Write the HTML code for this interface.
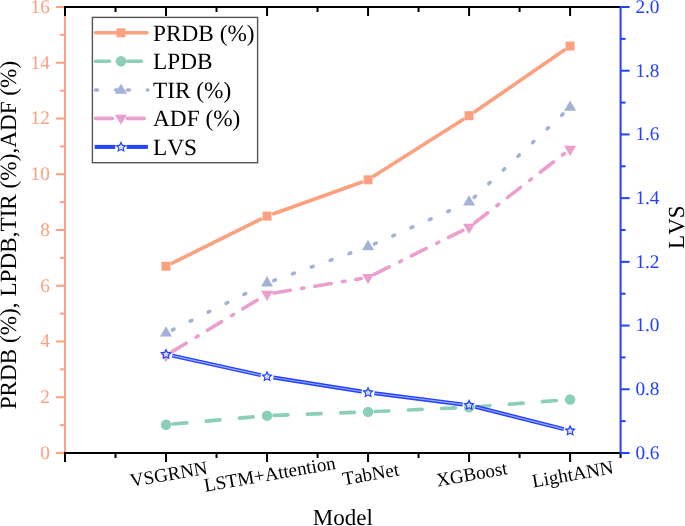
<!DOCTYPE html><html><head><meta charset="utf-8"><style>html,body{margin:0;padding:0;background:#fff;width:685px;height:526px;overflow:hidden}svg{display:block;will-change:transform}text{font-family:"Liberation Serif",serif;font-kerning:none;text-rendering:geometricPrecision}</style></head><body><svg width="685" height="526" viewBox="0 0 685 526"><line x1="65.0" y1="6.0" x2="65.0" y2="454.0" stroke="#FCA080" stroke-width="2"/><line x1="56.0" y1="453.00" x2="65.0" y2="453.00" stroke="#FCA080" stroke-width="2"/><text x="49.8" y="458.90" font-size="19.3" fill="#FCA080" text-anchor="end">0</text><line x1="60.0" y1="425.12" x2="65.0" y2="425.12" stroke="#FCA080" stroke-width="2"/><line x1="56.0" y1="397.25" x2="65.0" y2="397.25" stroke="#FCA080" stroke-width="2"/><text x="49.8" y="403.15" font-size="19.3" fill="#FCA080" text-anchor="end">2</text><line x1="60.0" y1="369.38" x2="65.0" y2="369.38" stroke="#FCA080" stroke-width="2"/><line x1="56.0" y1="341.50" x2="65.0" y2="341.50" stroke="#FCA080" stroke-width="2"/><text x="49.8" y="347.40" font-size="19.3" fill="#FCA080" text-anchor="end">4</text><line x1="60.0" y1="313.62" x2="65.0" y2="313.62" stroke="#FCA080" stroke-width="2"/><line x1="56.0" y1="285.75" x2="65.0" y2="285.75" stroke="#FCA080" stroke-width="2"/><text x="49.8" y="291.65" font-size="19.3" fill="#FCA080" text-anchor="end">6</text><line x1="60.0" y1="257.88" x2="65.0" y2="257.88" stroke="#FCA080" stroke-width="2"/><line x1="56.0" y1="230.00" x2="65.0" y2="230.00" stroke="#FCA080" stroke-width="2"/><text x="49.8" y="235.90" font-size="19.3" fill="#FCA080" text-anchor="end">8</text><line x1="60.0" y1="202.12" x2="65.0" y2="202.12" stroke="#FCA080" stroke-width="2"/><line x1="56.0" y1="174.25" x2="65.0" y2="174.25" stroke="#FCA080" stroke-width="2"/><text x="49.8" y="180.15" font-size="19.3" fill="#FCA080" text-anchor="end">10</text><line x1="60.0" y1="146.38" x2="65.0" y2="146.38" stroke="#FCA080" stroke-width="2"/><line x1="56.0" y1="118.50" x2="65.0" y2="118.50" stroke="#FCA080" stroke-width="2"/><text x="49.8" y="124.40" font-size="19.3" fill="#FCA080" text-anchor="end">12</text><line x1="60.0" y1="90.62" x2="65.0" y2="90.62" stroke="#FCA080" stroke-width="2"/><line x1="56.0" y1="62.75" x2="65.0" y2="62.75" stroke="#FCA080" stroke-width="2"/><text x="49.8" y="68.65" font-size="19.3" fill="#FCA080" text-anchor="end">14</text><line x1="60.0" y1="34.88" x2="65.0" y2="34.88" stroke="#FCA080" stroke-width="2"/><line x1="56.0" y1="7.00" x2="65.0" y2="7.00" stroke="#FCA080" stroke-width="2"/><text x="49.8" y="12.90" font-size="19.3" fill="#FCA080" text-anchor="end">16</text><line x1="64.0" y1="453.0" x2="620.6" y2="453.0" stroke="#000" stroke-width="2"/><line x1="64.0" y1="7.0" x2="620.6" y2="7.0" stroke="#000" stroke-width="2"/><line x1="65.00" y1="453.0" x2="65.00" y2="462.0" stroke="#000" stroke-width="2"/><line x1="65.00" y1="7.0" x2="65.00" y2="16.0" stroke="#000" stroke-width="2"/><line x1="115.51" y1="453.0" x2="115.51" y2="458.0" stroke="#000" stroke-width="2"/><line x1="115.51" y1="7.0" x2="115.51" y2="12.0" stroke="#000" stroke-width="2"/><line x1="166.02" y1="453.0" x2="166.02" y2="462.0" stroke="#000" stroke-width="2"/><line x1="166.02" y1="7.0" x2="166.02" y2="16.0" stroke="#000" stroke-width="2"/><line x1="216.53" y1="453.0" x2="216.53" y2="458.0" stroke="#000" stroke-width="2"/><line x1="216.53" y1="7.0" x2="216.53" y2="12.0" stroke="#000" stroke-width="2"/><line x1="267.04" y1="453.0" x2="267.04" y2="462.0" stroke="#000" stroke-width="2"/><line x1="267.04" y1="7.0" x2="267.04" y2="16.0" stroke="#000" stroke-width="2"/><line x1="317.55" y1="453.0" x2="317.55" y2="458.0" stroke="#000" stroke-width="2"/><line x1="317.55" y1="7.0" x2="317.55" y2="12.0" stroke="#000" stroke-width="2"/><line x1="368.05" y1="453.0" x2="368.05" y2="462.0" stroke="#000" stroke-width="2"/><line x1="368.05" y1="7.0" x2="368.05" y2="16.0" stroke="#000" stroke-width="2"/><line x1="418.56" y1="453.0" x2="418.56" y2="458.0" stroke="#000" stroke-width="2"/><line x1="418.56" y1="7.0" x2="418.56" y2="12.0" stroke="#000" stroke-width="2"/><line x1="469.07" y1="453.0" x2="469.07" y2="462.0" stroke="#000" stroke-width="2"/><line x1="469.07" y1="7.0" x2="469.07" y2="16.0" stroke="#000" stroke-width="2"/><line x1="519.58" y1="453.0" x2="519.58" y2="458.0" stroke="#000" stroke-width="2"/><line x1="519.58" y1="7.0" x2="519.58" y2="12.0" stroke="#000" stroke-width="2"/><line x1="570.09" y1="453.0" x2="570.09" y2="462.0" stroke="#000" stroke-width="2"/><line x1="570.09" y1="7.0" x2="570.09" y2="16.0" stroke="#000" stroke-width="2"/><line x1="620.60" y1="453.0" x2="620.60" y2="458.0" stroke="#000" stroke-width="2"/><line x1="620.6" y1="6.0" x2="620.6" y2="454.0" stroke="#2342FF" stroke-width="2"/><line x1="620.6" y1="453.00" x2="629.6" y2="453.00" stroke="#2342FF" stroke-width="2"/><text x="635.4" y="458.90" font-size="19.3" fill="#2342FF">0.6</text><line x1="620.6" y1="421.14" x2="625.6" y2="421.14" stroke="#2342FF" stroke-width="2"/><line x1="620.6" y1="389.29" x2="629.6" y2="389.29" stroke="#2342FF" stroke-width="2"/><text x="635.4" y="395.19" font-size="19.3" fill="#2342FF">0.8</text><line x1="620.6" y1="357.43" x2="625.6" y2="357.43" stroke="#2342FF" stroke-width="2"/><line x1="620.6" y1="325.57" x2="629.6" y2="325.57" stroke="#2342FF" stroke-width="2"/><text x="635.4" y="331.47" font-size="19.3" fill="#2342FF">1.0</text><line x1="620.6" y1="293.71" x2="625.6" y2="293.71" stroke="#2342FF" stroke-width="2"/><line x1="620.6" y1="261.86" x2="629.6" y2="261.86" stroke="#2342FF" stroke-width="2"/><text x="635.4" y="267.76" font-size="19.3" fill="#2342FF">1.2</text><line x1="620.6" y1="230.00" x2="625.6" y2="230.00" stroke="#2342FF" stroke-width="2"/><line x1="620.6" y1="198.14" x2="629.6" y2="198.14" stroke="#2342FF" stroke-width="2"/><text x="635.4" y="204.04" font-size="19.3" fill="#2342FF">1.4</text><line x1="620.6" y1="166.29" x2="625.6" y2="166.29" stroke="#2342FF" stroke-width="2"/><line x1="620.6" y1="134.43" x2="629.6" y2="134.43" stroke="#2342FF" stroke-width="2"/><text x="635.4" y="140.33" font-size="19.3" fill="#2342FF">1.6</text><line x1="620.6" y1="102.57" x2="625.6" y2="102.57" stroke="#2342FF" stroke-width="2"/><line x1="620.6" y1="70.71" x2="629.6" y2="70.71" stroke="#2342FF" stroke-width="2"/><text x="635.4" y="76.61" font-size="19.3" fill="#2342FF">1.8</text><line x1="620.6" y1="38.86" x2="625.6" y2="38.86" stroke="#2342FF" stroke-width="2"/><line x1="620.6" y1="7.00" x2="629.6" y2="7.00" stroke="#2342FF" stroke-width="2"/><text x="635.4" y="12.90" font-size="19.3" fill="#2342FF">2.0</text><text x="169.02" y="476" font-size="19" fill="#000" text-anchor="middle" dominant-baseline="middle" transform="rotate(-10 169.02 476)">VSGRNN</text><text x="270.04" y="476" font-size="19" fill="#000" text-anchor="middle" dominant-baseline="middle" transform="rotate(-10 270.04 476)">LSTM+Attention</text><text x="371.05" y="476" font-size="19" fill="#000" text-anchor="middle" dominant-baseline="middle" transform="rotate(-10 371.05 476)">TabNet</text><text x="472.07" y="476" font-size="19" fill="#000" text-anchor="middle" dominant-baseline="middle" transform="rotate(-10 472.07 476)">XGBoost</text><text x="573.09" y="476" font-size="19" fill="#000" text-anchor="middle" dominant-baseline="middle" transform="rotate(-10 573.09 476)">LightANN</text><text x="342.8" y="525" font-size="23" fill="#000" text-anchor="middle">Model</text><text x="0" y="0" font-size="23.2" fill="#000" text-anchor="middle" transform="translate(16.4 235.1) rotate(-90)">PRDB (%), LPDB,TIR (%),ADF (%)</text><text x="0" y="0" font-size="23" fill="#000" text-anchor="middle" transform="translate(684 227.2) rotate(-90)">LVS</text><line x1="172.29" y1="263.12" x2="260.77" y2="219.18" stroke="#FCA080" stroke-width="3.6" stroke-linecap="round"/><line x1="273.63" y1="213.70" x2="361.47" y2="182.19" stroke="#FCA080" stroke-width="3.6" stroke-linecap="round"/><line x1="373.96" y1="176.07" x2="463.16" y2="119.46" stroke="#FCA080" stroke-width="3.6" stroke-linecap="round"/><line x1="474.83" y1="111.74" x2="564.33" y2="50.00" stroke="#FCA080" stroke-width="3.6" stroke-linecap="round"/><rect x="161.52" y="261.74" width="9" height="9" fill="#FCA080"/><rect x="262.54" y="211.56" width="9" height="9" fill="#FCA080"/><rect x="363.55" y="175.32" width="9" height="9" fill="#FCA080"/><rect x="464.57" y="111.21" width="9" height="9" fill="#FCA080"/><rect x="565.59" y="41.53" width="9" height="9" fill="#FCA080"/><line x1="172.99" y1="424.08" x2="260.06" y2="416.27" stroke="#8CCFB8" stroke-width="3.6" stroke-linecap="round" stroke-dasharray="13.9 19.4"/><line x1="274.03" y1="415.39" x2="361.06" y2="412.14" stroke="#8CCFB8" stroke-width="3.6" stroke-linecap="round" stroke-dasharray="13.9 19.4"/><line x1="375.05" y1="411.57" x2="462.08" y2="407.60" stroke="#8CCFB8" stroke-width="3.6" stroke-linecap="round" stroke-dasharray="13.9 19.4"/><line x1="476.05" y1="406.75" x2="563.11" y2="400.02" stroke="#8CCFB8" stroke-width="3.6" stroke-linecap="round" stroke-dasharray="13.9 19.4"/><circle cx="166.02" cy="424.71" r="5.25" fill="#8CCFB8"/><circle cx="267.04" cy="415.65" r="5.25" fill="#8CCFB8"/><circle cx="368.05" cy="411.88" r="5.25" fill="#8CCFB8"/><circle cx="469.07" cy="407.29" r="5.25" fill="#8CCFB8"/><circle cx="570.09" cy="399.48" r="5.25" fill="#8CCFB8"/><line x1="172.29" y1="330.02" x2="260.77" y2="286.08" stroke="#A3B2D6" stroke-width="3.6" stroke-linecap="round" stroke-dasharray="1.9 18.1"/><line x1="273.63" y1="280.60" x2="361.47" y2="249.09" stroke="#A3B2D6" stroke-width="3.6" stroke-linecap="round" stroke-dasharray="1.9 18.1"/><line x1="374.46" y1="243.90" x2="462.67" y2="204.95" stroke="#A3B2D6" stroke-width="3.6" stroke-linecap="round" stroke-dasharray="1.9 18.1"/><line x1="474.18" y1="197.34" x2="564.99" y2="112.14" stroke="#A3B2D6" stroke-width="3.6" stroke-linecap="round" stroke-dasharray="1.9 18.1"/><path d="M166.02,326.27 L172.02,336.57 L160.02,336.57Z" fill="#A3B2D6"/><path d="M267.04,276.10 L273.04,286.40 L261.04,286.40Z" fill="#A3B2D6"/><path d="M368.05,239.86 L374.05,250.16 L362.05,250.16Z" fill="#A3B2D6"/><path d="M469.07,195.26 L475.07,205.56 L463.07,205.56Z" fill="#A3B2D6"/><path d="M570.09,100.48 L576.09,110.78 L564.09,110.78Z" fill="#A3B2D6"/><line x1="171.92" y1="351.86" x2="261.14" y2="297.69" stroke="#EA9FCE" stroke-width="3.6" stroke-linecap="round" stroke-dasharray="16.7 11.5 2.4 10.9"/><line x1="273.84" y1="292.99" x2="361.25" y2="278.51" stroke="#EA9FCE" stroke-width="3.6" stroke-linecap="round" stroke-dasharray="16.7 11.5 2.4 10.9"/><line x1="374.23" y1="274.32" x2="462.89" y2="230.28" stroke="#EA9FCE" stroke-width="3.6" stroke-linecap="round" stroke-dasharray="16.7 11.5 2.4 10.9"/><line x1="474.53" y1="222.99" x2="564.63" y2="153.38" stroke="#EA9FCE" stroke-width="3.6" stroke-linecap="round" stroke-dasharray="16.7 11.5 2.4 10.9"/><path d="M166.02,362.30 L172.02,352.00 L160.02,352.00Z" fill="#EA9FCE"/><path d="M267.04,300.98 L273.04,290.68 L261.04,290.68Z" fill="#EA9FCE"/><path d="M368.05,284.25 L374.05,273.95 L362.05,273.95Z" fill="#EA9FCE"/><path d="M469.07,234.08 L475.07,223.78 L463.07,223.78Z" fill="#EA9FCE"/><path d="M570.09,156.03 L576.09,145.73 L564.09,145.73Z" fill="#EA9FCE"/><line x1="172.27" y1="355.62" x2="260.79" y2="375.16" stroke="#2342FF" stroke-width="4" stroke-linecap="butt"/><line x1="273.36" y1="377.54" x2="361.73" y2="391.47" stroke="#2342FF" stroke-width="4" stroke-linecap="butt"/><line x1="374.40" y1="393.27" x2="462.72" y2="404.41" stroke="#2342FF" stroke-width="4" stroke-linecap="butt"/><line x1="475.28" y1="406.78" x2="563.89" y2="429.13" stroke="#2342FF" stroke-width="4" stroke-linecap="butt"/><line x1="172.27" y1="355.62" x2="260.79" y2="375.16" stroke="#fff" stroke-width="1.1" stroke-linecap="butt" stroke-opacity="0.55"/><line x1="273.36" y1="377.54" x2="361.73" y2="391.47" stroke="#fff" stroke-width="1.1" stroke-linecap="butt" stroke-opacity="0.55"/><line x1="374.40" y1="393.27" x2="462.72" y2="404.41" stroke="#fff" stroke-width="1.1" stroke-linecap="butt" stroke-opacity="0.55"/><line x1="475.28" y1="406.78" x2="563.89" y2="429.13" stroke="#fff" stroke-width="1.1" stroke-linecap="butt" stroke-opacity="0.55"/><path d="M166.02,348.14 L167.74,351.87 L171.82,352.36 L168.80,355.15 L169.60,359.18 L166.02,357.17 L162.43,359.18 L163.23,355.15 L160.22,352.36 L164.30,351.87Z" fill="#2342FF"/><path d="M166.02,351.24 L166.92,353.20 L169.06,353.45 L167.48,354.92 L167.90,357.03 L166.02,355.98 L164.14,357.03 L164.56,354.92 L162.97,353.45 L165.12,353.20Z" fill="#fff"/><path d="M166.02,353.14 L166.43,353.88 L167.25,354.04 L166.68,354.66 L166.78,355.49 L166.02,355.14 L165.25,355.49 L165.35,354.66 L164.78,354.04 L165.61,353.88Z" fill="#2342FF" fill-opacity="0.35"/><path d="M267.04,370.44 L268.76,374.17 L272.84,374.66 L269.82,377.45 L270.62,381.48 L267.04,379.47 L263.45,381.48 L264.25,377.45 L261.23,374.66 L265.32,374.17Z" fill="#2342FF"/><path d="M267.04,373.54 L267.94,375.50 L270.08,375.75 L268.50,377.22 L268.92,379.33 L267.04,378.28 L265.16,379.33 L265.58,377.22 L263.99,375.75 L266.13,375.50Z" fill="#fff"/><path d="M267.04,375.44 L267.45,376.18 L268.27,376.34 L267.70,376.96 L267.80,377.79 L267.04,377.44 L266.27,377.79 L266.37,376.96 L265.80,376.34 L266.62,376.18Z" fill="#2342FF" fill-opacity="0.35"/><path d="M368.05,386.37 L369.78,390.10 L373.86,390.59 L370.84,393.38 L371.64,397.41 L368.05,395.40 L364.47,397.41 L365.27,393.38 L362.25,390.59 L366.33,390.10Z" fill="#2342FF"/><path d="M368.05,389.47 L368.96,391.43 L371.10,391.68 L369.52,393.15 L369.94,395.26 L368.05,394.21 L366.17,395.26 L366.59,393.15 L365.01,391.68 L367.15,391.43Z" fill="#fff"/><path d="M368.05,391.37 L368.47,392.11 L369.29,392.27 L368.72,392.89 L368.82,393.72 L368.05,393.37 L367.29,393.72 L367.39,392.89 L366.82,392.27 L367.64,392.11Z" fill="#2342FF" fill-opacity="0.35"/><path d="M469.07,399.11 L470.79,402.85 L474.87,403.33 L471.86,406.12 L472.66,410.15 L469.07,408.14 L465.49,410.15 L466.29,406.12 L463.27,403.33 L467.35,402.85Z" fill="#2342FF"/><path d="M469.07,402.21 L469.98,404.17 L472.12,404.43 L470.53,405.89 L470.95,408.00 L469.07,406.95 L467.19,408.00 L467.61,405.89 L466.03,404.43 L468.17,404.17Z" fill="#fff"/><path d="M469.07,404.11 L469.48,404.85 L470.31,405.01 L469.74,405.63 L469.84,406.47 L469.07,406.11 L468.31,406.47 L468.41,405.63 L467.84,405.01 L468.66,404.85Z" fill="#2342FF" fill-opacity="0.35"/><path d="M570.09,424.60 L571.81,428.33 L575.89,428.81 L572.88,431.60 L573.68,435.64 L570.09,433.63 L566.51,435.64 L567.31,431.60 L564.29,428.81 L568.37,428.33Z" fill="#2342FF"/><path d="M570.09,427.70 L570.99,429.66 L573.13,429.91 L571.55,431.37 L571.97,433.49 L570.09,432.44 L568.21,433.49 L568.63,431.37 L567.05,429.91 L569.19,429.66Z" fill="#fff"/><path d="M570.09,429.60 L570.50,430.33 L571.33,430.50 L570.76,431.12 L570.86,431.95 L570.09,431.60 L569.33,431.95 L569.43,431.12 L568.85,430.50 L569.68,430.33Z" fill="#2342FF" fill-opacity="0.35"/><rect x="92.4" y="17.4" width="165.2" height="145.3" fill="#fff" stroke="#555" stroke-width="1.4"/><line x1="95.6" y1="32.8" x2="146.9" y2="32.8" stroke="#FCA080" stroke-width="3.6" stroke-linecap="round"/><rect x="116.50" y="28.30" width="9" height="9" fill="#FCA080"/><text x="153" y="40.60" font-size="23.3" fill="#000">PRDB (%)</text><line x1="95.6" y1="61.2" x2="116" y2="61.2" stroke="#8CCFB8" stroke-width="3.6" stroke-linecap="round" stroke-dasharray="13.9 19.4"/><line x1="127.5" y1="61.2" x2="146.9" y2="61.2" stroke="#8CCFB8" stroke-width="3.6" stroke-linecap="round" stroke-dasharray="13.9 19.4"/><circle cx="121.00" cy="61.20" r="5.25" fill="#8CCFB8"/><text x="153" y="69.00" font-size="23.3" fill="#000">LPDB</text><line x1="95.6" y1="90.0" x2="117.7" y2="90.0" stroke="#A3B2D6" stroke-width="3.6" stroke-linecap="round" stroke-dasharray="1.9 18.1"/><line x1="127.4" y1="90.0" x2="147.9" y2="90.0" stroke="#A3B2D6" stroke-width="3.6" stroke-linecap="round" stroke-dasharray="1.9 18.1"/><path d="M121.00,83.63 L127.10,93.63 L114.90,93.63Z" fill="#A3B2D6"/><text x="153" y="97.80" font-size="23.3" fill="#000">TIR (%)</text><line x1="95.6" y1="118.4" x2="116" y2="118.4" stroke="#EA9FCE" stroke-width="3.6" stroke-linecap="round" stroke-dasharray="16.7 11.5 2.4 10.9"/><line x1="127.5" y1="118.4" x2="146.9" y2="118.4" stroke="#EA9FCE" stroke-width="3.6" stroke-linecap="round" stroke-dasharray="16.7 11.5 2.4 10.9"/><path d="M121.00,124.77 L127.10,114.77 L114.90,114.77Z" fill="#EA9FCE"/><text x="153" y="126.20" font-size="23.3" fill="#000">ADF (%)</text><line x1="94.7" y1="146.9" x2="115.2" y2="146.9" stroke="#2342FF" stroke-width="4" stroke-linecap="butt"/><line x1="126.6" y1="146.9" x2="147.9" y2="146.9" stroke="#2342FF" stroke-width="4" stroke-linecap="butt"/><path d="M121.00,141.00 L122.72,144.73 L126.80,145.21 L123.78,148.00 L124.59,152.04 L121.00,150.03 L117.41,152.04 L118.22,148.00 L115.20,145.21 L119.28,144.73Z" fill="#2342FF"/><path d="M121.00,144.10 L121.90,146.06 L124.04,146.31 L122.46,147.77 L122.88,149.89 L121.00,148.84 L119.12,149.89 L119.54,147.77 L117.96,146.31 L120.10,146.06Z" fill="#fff"/><path d="M121.00,146.00 L121.41,146.73 L122.24,146.90 L121.67,147.52 L121.76,148.35 L121.00,148.00 L120.24,148.35 L120.33,147.52 L119.76,146.90 L120.59,146.73Z" fill="#2342FF" fill-opacity="0.35"/><text x="153" y="154.70" font-size="23.3" fill="#000">LVS</text></svg></body></html>
